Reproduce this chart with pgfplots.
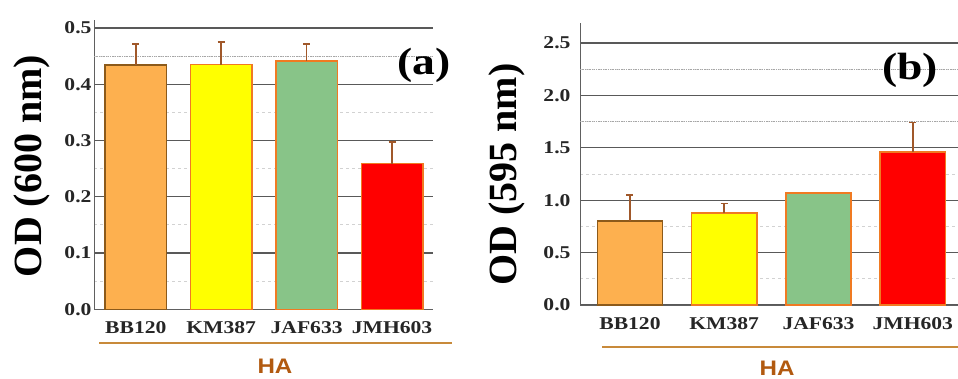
\documentclass[border=0pt]{standalone}
\usepackage{pgfplots}
\pgfplotsset{compat=1.18}
\usepackage{fontspec}
\setmainfont{Liberation Serif}
\newfontfamily\wserif[FakeStretch=1.2]{Liberation Serif}
\newfontfamily\wsans[FakeStretch=1.15]{Liberation Sans}
\definecolor{cOr}{HTML}{FDB04F}
\definecolor{cOrB}{HTML}{8C5A1A}
\definecolor{cYe}{HTML}{FFFF00}
\definecolor{cGr}{HTML}{88C488}
\definecolor{cRe}{HTML}{FF0000}
\definecolor{cB}{HTML}{F07A22}
\definecolor{cErr}{HTML}{A0582A}
\definecolor{haLine}{HTML}{C88A3A}
\definecolor{haText}{HTML}{B25A10}
\pgfplotsset{
  myax/.style={
    scale only axis, anchor=south west,
    ybar, bar shift=0pt,
    axis x line*=bottom, axis y line*=left,
    axis line style={gray!75!black, line width=0.8pt},
    major tick length=0pt, minor tick length=0pt,
    ymajorgrids, yminorgrids, minor y tick num=1,
    major grid style={gray!70!black, line width=1.3pt},
    minor grid style={gray!35, dashed, line width=0.9pt},
    xtick={0,1,2,3}, xticklabels={BB120,KM387,JAF633,JMH603},
    ymin=0,
    /pgf/number format/assume math mode=true,
    tick label style={font=\wserif\bfseries\fontsize{18}{18}\selectfont, black!85},
    x tick label style={yshift=-9pt},
    y tick label style={/pgf/number format/fixed, /pgf/number format/fixed zerofill, /pgf/number format/precision=1},
    extra y tick labels={},
    extra y tick style={major grid style={densely dotted, gray!70, line width=1pt}},
  },
  errb/.style={
    /pgfplots/error bars/y dir=plus,
    /pgfplots/error bars/y explicit,
    /pgfplots/error bars/error bar style={color=cErr, line width=1.5pt},
    /pgfplots/error bars/error mark options={rotate=90, mark size=3.5pt, line width=1.5pt, color=cErr},
  },
}
\begin{document}
\begin{tikzpicture}
\fill[white] (0,0) rectangle (958pt,378pt);
\path[use as bounding box] (0,0) rectangle (958pt,378pt);
% panel (a)
\begin{axis}[myax, at={(94pt,68.7pt)}, width=339pt, height=289.7pt,
  xmin=-0.49, xmax=3.48, ymax=0.515, bar width=0.72,
  ytick={0,0.1,0.2,0.3,0.4,0.5}, extra y ticks={0.45},
  y tick label style={xshift=1pt}]
\addplot[errb, fill=cOr, draw=cOrB, line width=1.5pt] coordinates {(0,0.434) +- (0,0.038)};
\addplot[errb, fill=cYe, draw=cB, line width=1.5pt] coordinates {(1,0.435) +- (0,0.040)};
\addplot[errb, fill=cGr, draw=cB, line width=1.5pt] coordinates {(2,0.441) +- (0,0.031)};
\addplot[errb, fill=cRe, draw=cB, line width=1.5pt] coordinates {(3,0.259) +- (0,0.038)};
\end{axis}
% panel (b)
\begin{axis}[myax, at={(580pt,73pt)}, width=378pt, height=282pt,
  xmin=-0.53, xmax=3.48, ymax=2.69, bar width=0.69,
  ytick={0,0.5,1.0,1.5,2.0,2.5}, extra y ticks={1.75,2.25},
  y tick label style={xshift=-6pt}]
\addplot[errb, fill=cOr, draw=cOrB, line width=1.5pt] coordinates {(0,0.80) +- (0,0.25)};
\addplot[errb, fill=cYe, draw=cB, line width=1.5pt] coordinates {(1,0.876) +- (0,0.094)};
\addplot[fill=cGr, draw=cB, line width=1.5pt] coordinates {(2,1.067)};
\addplot[errb, fill=cRe, draw=cB, line width=1.5pt] coordinates {(3,1.46) +- (0,0.28)};
\end{axis}
% axis titles
\node[rotate=90, font=\bfseries\fontsize{40}{40}\selectfont] at (32pt,212pt) {OD (600 nm)};
\node[rotate=90, font=\bfseries\fontsize{40}{40}\selectfont] at (507pt,203.5pt) {OD (595 nm)};
\node[font=\wserif\bfseries\fontsize{38}{38}\selectfont] at (424pt,313pt) {(a)};
\node[font=\wserif\bfseries\fontsize{38}{38}\selectfont] at (910pt,308pt) {(b)};
% HA group lines
\draw[haLine, line width=1.8pt] (99pt,35pt) -- (452pt,35pt);
\node[font=\wsans\bfseries\fontsize{21}{21}\selectfont, text=haText] at (275pt,12pt) {HA};
\draw[haLine, line width=1.8pt] (602pt,31pt) -- (958pt,31pt);
\node[font=\wsans\bfseries\fontsize{21}{21}\selectfont, text=haText] at (777pt,10pt) {HA};
\end{tikzpicture}
\end{document}
